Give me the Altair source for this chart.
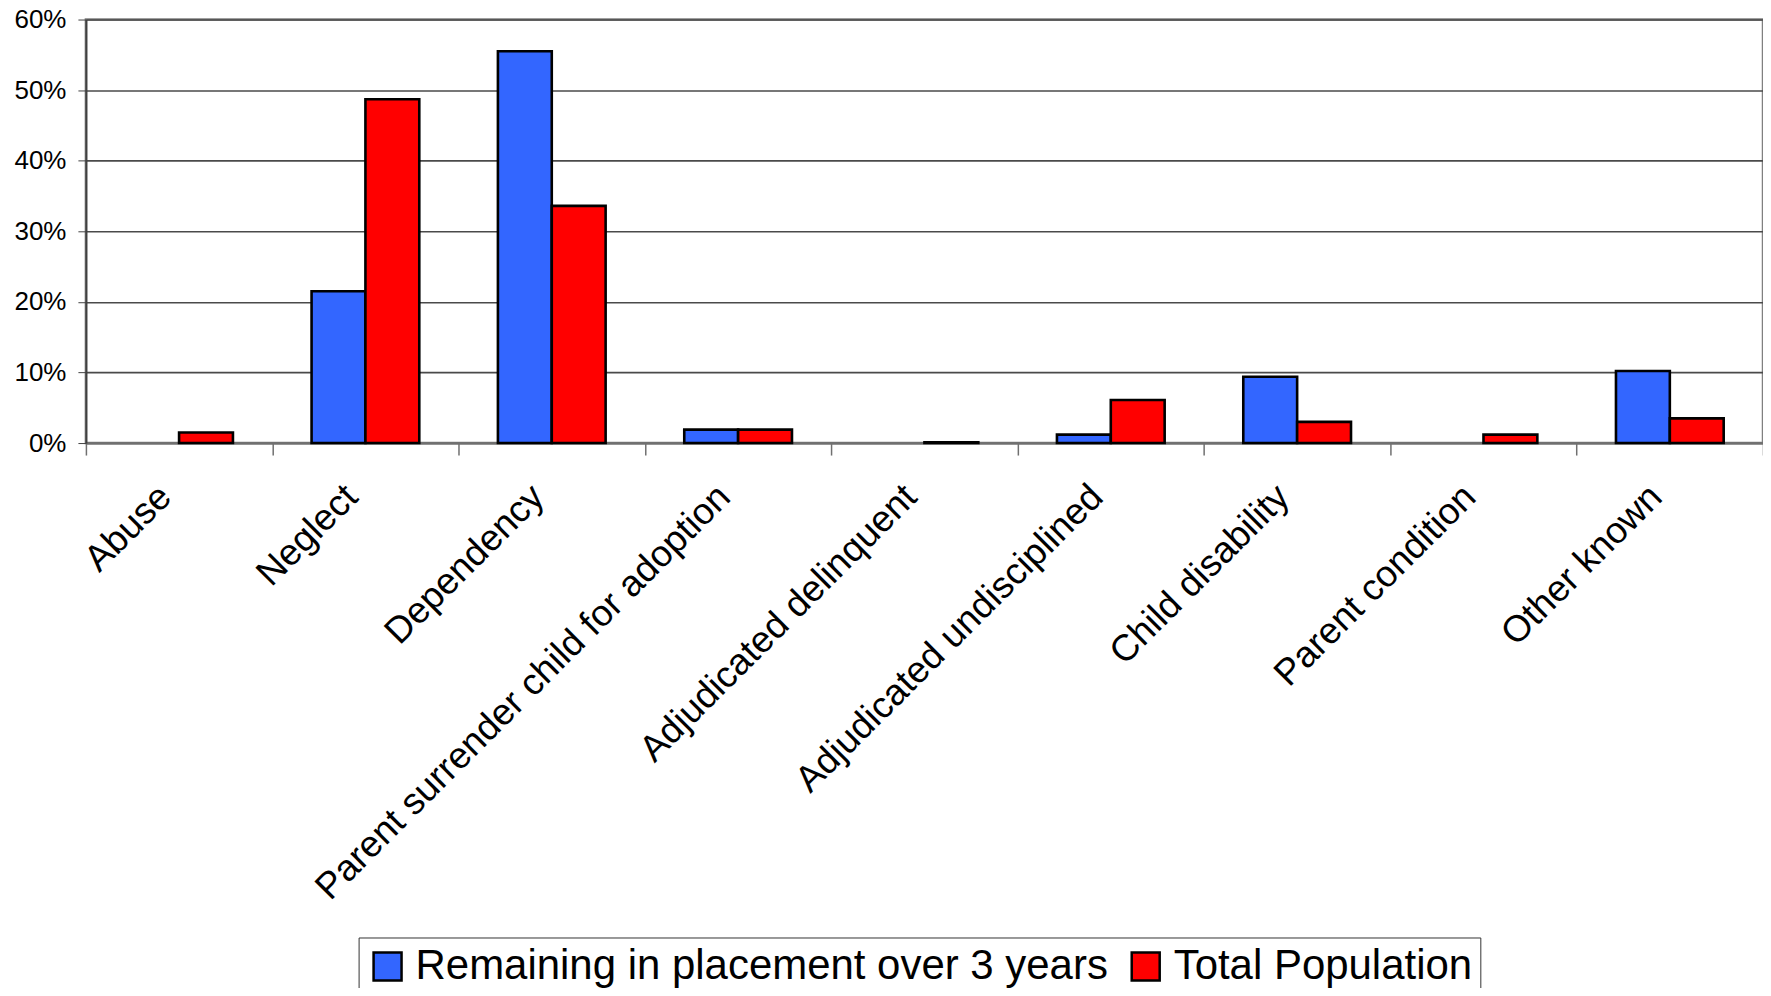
import altair as alt
import pandas as pd

categories = ["Abuse", "Neglect", "Dependency", "Parent surrender child for adoption",
              "Adjudicated delinquent", "Adjudicated undisciplined", "Child disability",
              "Parent condition", "Other known"]
series = ["Remaining in placement over 3 years", "Total Population"]
remaining = [0.0, 21.5, 55.5, 1.9, 0.0, 1.2, 9.4, 0.0, 10.2]
total = [1.5, 48.7, 33.6, 1.9, 0.1, 6.1, 3.0, 1.2, 3.5]
colors = ["#3366FF", "#FF0000"]

rows = []
for c, r, t in zip(categories, remaining, total):
    rows.append({"cat": c, "series": series[0], "value": r / 100})
    rows.append({"cat": c, "series": series[1], "value": t / 100})
df = pd.DataFrame(rows)

FONT = "Liberation Sans"

chart = alt.Chart(df).mark_bar(stroke="black", strokeWidth=2.6).encode(
    x=alt.X("cat:N", sort=categories, title=None,
            scale=alt.Scale(paddingInner=0, paddingOuter=0),
            axis=alt.Axis(labelAngle=-45, labelAlign="right", labelBaseline="middle",
                          labelFontSize=37, labelFont=FONT, labelColor="black",
                          labelPadding=36, labelOffset=-14, tickBand="extent", tickSize=12,
                          tickColor="#707070", tickWidth=1.5, domainColor="#707070",
                          domainWidth=2, labelLimit=0, labelFlush=False, grid=False)),
    xOffset=alt.XOffset("series:N", sort=series,
                        scale=alt.Scale(domain=series, paddingOuter=0.73, paddingInner=0)),
    y=alt.Y("value:Q", title=None,
            scale=alt.Scale(domain=[0, 0.6], nice=False),
            axis=alt.Axis(values=[0, 0.1, 0.2, 0.3, 0.4, 0.5, 0.6], format=".0%",
                          labelFontSize=26, labelFont=FONT, labelColor="black",
                          labelPadding=12, tickSize=8, tickColor="#404040",
                          domainColor="#404040", domainWidth=2,
                          gridColor="#4a4a4a", gridWidth=1.6)),
    strokeOpacity=alt.condition("datum.value > 0", alt.value(1), alt.value(0)),
    color=alt.Color("series:N", sort=series,
                    scale=alt.Scale(domain=series, range=colors),
                    legend=alt.Legend(title=None, orient="none", legendX=273, legendY=919,
                                      direction="horizontal", symbolType="square",
                                      symbolSize=784, symbolStrokeColor="black",
                                      symbolStrokeWidth=2.5, labelFontSize=42, labelFont=FONT,
                                      labelColor="black", labelOffset=7, columnPadding=16,
                                      padding=8, strokeColor="#333333", labelLimit=0)),
).properties(
    width=1679, height=424,
    autosize=alt.AutoSizeParams(type="none"),
    padding={"left": 78, "top": 11, "right": 0, "bottom": 545},
).configure_view(
    stroke="#808080", strokeWidth=2.5
)

chart.save("out.html", embed_options={"renderer": "svg", "actions": False})
